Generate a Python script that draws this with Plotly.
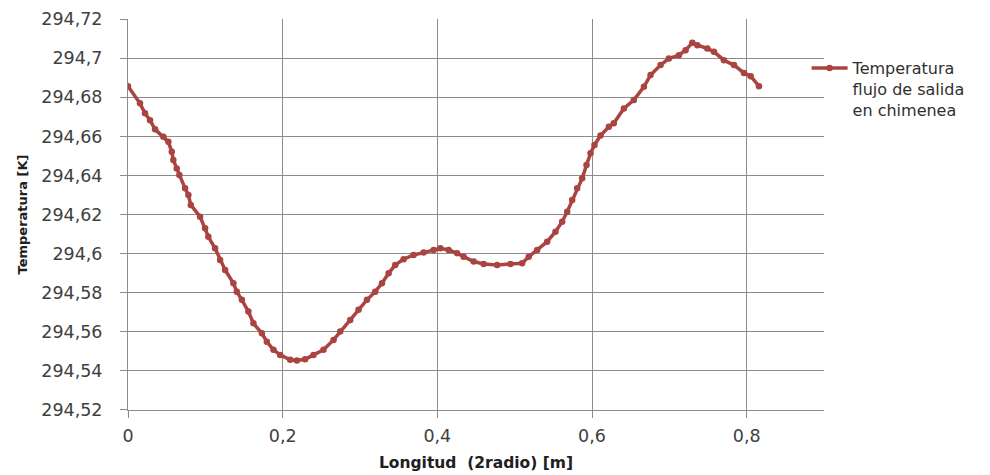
import plotly.graph_objects as go

longitud = [0.000, 0.0155, 0.0220, 0.0285, 0.0350, 0.0457, 0.0522, 0.0566, 0.0586, 0.0630,
            0.0664, 0.0738, 0.0781, 0.0812, 0.0932, 0.0997, 0.1039, 0.1126, 0.1191, 0.1256,
            0.1363, 0.1407, 0.1472, 0.1557, 0.1622, 0.1731, 0.1795, 0.1881, 0.1968, 0.2097,
            0.2184, 0.2291, 0.2399, 0.2528, 0.2658, 0.2744, 0.2874, 0.2981, 0.3090, 0.3197,
            0.3284, 0.3370, 0.3456, 0.3564, 0.3693, 0.3823, 0.3952, 0.4039, 0.4146, 0.4255,
            0.4340, 0.4470, 0.4599, 0.4773, 0.4945, 0.5096, 0.5182, 0.5291, 0.5420, 0.5528,
            0.5614, 0.5679, 0.5744, 0.5808, 0.5873, 0.5929, 0.5981, 0.6032, 0.6110, 0.6218,
            0.6282, 0.6412, 0.6541, 0.6671, 0.6757, 0.6887, 0.6994, 0.7124, 0.7210, 0.7297,
            0.7362, 0.7491, 0.7577, 0.7706, 0.7836, 0.7965, 0.8052, 0.8159]

temperatura = [294.6857, 294.6769, 294.6718, 294.6683, 294.6636, 294.6598, 294.6572, 294.6521, 294.6479, 294.6436,
               294.6402, 294.6334, 294.6300, 294.6249, 294.6189, 294.6129, 294.6086, 294.6027, 294.5967, 294.5916,
               294.5848, 294.5805, 294.5763, 294.5703, 294.5643, 294.5592, 294.5549, 294.5507, 294.5481, 294.5456,
               294.5452, 294.5459, 294.5481, 294.5507, 294.5558, 294.5601, 294.5660, 294.5712, 294.5763, 294.5805,
               294.5848, 294.5899, 294.5942, 294.5971, 294.5993, 294.6005, 294.6018, 294.6027, 294.6018, 294.6002,
               294.5984, 294.5959, 294.5947, 294.5942, 294.5947, 294.5950, 294.5984, 294.6018, 294.6061, 294.6112,
               294.6163, 294.6214, 294.6274, 294.6334, 294.6385, 294.6453, 294.6513, 294.6556, 294.6604, 294.6649,
               294.6667, 294.6743, 294.6786, 294.6854, 294.6914, 294.6965, 294.6999, 294.7016, 294.7041, 294.7079,
               294.7067, 294.7050, 294.7033, 294.6990, 294.6965, 294.6925, 294.6908, 294.6857]

x_tickvals = [0, 0.2, 0.4, 0.6, 0.8]
x_ticktext = ["0", "0,2", "0,4", "0,6", "0,8"]
y_tickvals = [294.52, 294.54, 294.56, 294.58, 294.60, 294.62, 294.64, 294.66, 294.68, 294.70, 294.72]
y_ticktext = ["294,52", "294,54", "294,56", "294,58", "294,6", "294,62", "294,64", "294,66", "294,68", "294,7", "294,72"]

series_name = "Temperatura<br>flujo de salida<br>en chimenea"

color = "#A94440"
grid = "#8C8C8C"
tick_font = dict(family="DejaVu Sans", size=17.5, color="#404040")

fig = go.Figure()
fig.add_trace(go.Scatter(
    x=longitud, y=temperatura, mode="lines+markers", name=series_name,
    line=dict(color=color, width=3.5),
    marker=dict(color=color, size=6.5, symbol="circle"),
))

fig.update_layout(
    width=990, height=475,
    margin=dict(l=128, r=166, t=19, b=65),
    paper_bgcolor="white", plot_bgcolor="white",
    showlegend=True,
    legend=dict(
        x=0.975, y=0.918, xref="paper", yref="paper", xanchor="left", yanchor="top",
        font=dict(family="DejaVu Sans", size=16, color="#303030"),
        valign="top", bgcolor="rgba(0,0,0,0)", itemwidth=36,
        tracegroupgap=0,
    ),
    xaxis=dict(
        range=[0, 0.9], tickvals=x_tickvals, ticktext=x_ticktext,
        showgrid=True, gridcolor=grid, gridwidth=1,
        showline=True, linecolor=grid, linewidth=1,
        ticks="outside", ticklen=7, tickcolor=grid,
        tickfont=tick_font, zeroline=False, ticklabelstandoff=3,
        automargin=False,
        title=dict(text="<b>Longitud  (2radio) [m]</b>", font=dict(family="DejaVu Sans", size=15.5, color="#202020"), standoff=12),
    ),
    yaxis=dict(
        range=[294.5199, 294.7201], tickvals=y_tickvals, ticktext=y_ticktext,
        showgrid=True, gridcolor=grid, gridwidth=1,
        showline=True, linecolor=grid, linewidth=1,
        ticks="outside", ticklen=7, tickcolor=grid,
        tickfont=tick_font, zeroline=False, ticklabelstandoff=14,
        automargin=False,
        title=dict(text="<b>Temperatura [K]</b>", font=dict(family="DejaVu Sans", size=13, color="#202020"), standoff=10),
    ),
)

fig.write_html("out.html")
